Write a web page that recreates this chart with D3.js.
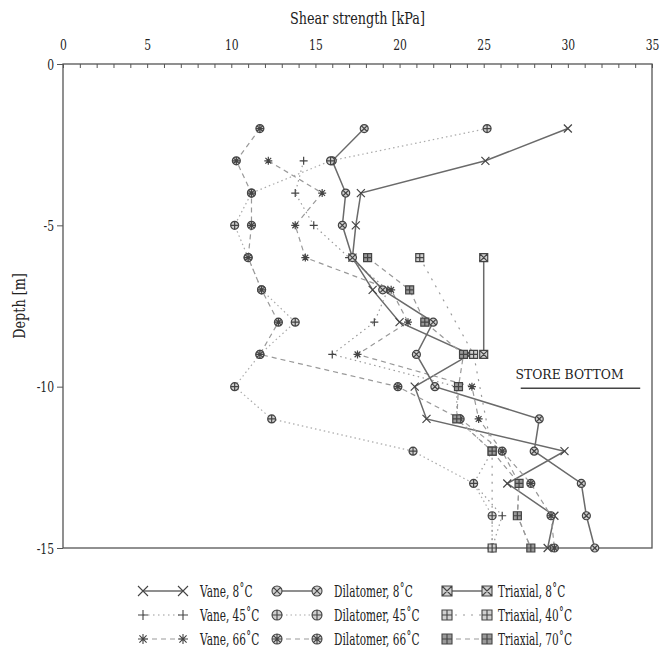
<!DOCTYPE html>
<html>
<head>
<meta charset="utf-8">
<script src="https://cdn.jsdelivr.net/npm/d3@7"></script>
<style>
  body { margin: 0; background: #fff; }
  svg text { font-family: "DejaVu Serif", serif; fill: #222; }
</style>
</head>
<body>
<div id="chart"></div>
<script>
// x ticks (kPa) and depth ticks (m)
const xLabels = [0, 5, 10, 15, 20, 25, 30, 35];
const yLabels = [0, -5, -10, -15];

// depths of the sample points
const depthsFull = [-2, -3, -4, -5, -6, -7, -8, -9, -10, -11, -12, -13, -14, -15];
const depthsFrom3 = [-3, -4, -5, -6, -7, -8, -9, -10, -11, -12, -13, -14, -15];
const depthsTri8 = [-6, -9];
const depthsTri40 = [-6, -9, -12, -15];
const depthsTri70 = [-6, -7, -8, -9, -10, -11, -12, -13, -14, -15];

// shear strength values [kPa]
const vane8 = [30.0, 25.1, 17.7, 17.4, 17.2, 18.4, 20.0, 24.2, 20.9, 21.6, 29.8, 26.4, 29.2, 28.8];
const vane45 = [14.3, 13.8, 14.9, 17.0, 19.3, 18.5, 16.0, 23.4, 23.4, 25.5, 24.4, 26.1, 25.5];
const vane66 = [12.2, 15.4, 13.8, 14.4, 19.5, 20.5, 17.5, 24.3, 24.7, 26.1, 27.1, 27.0, 27.8];
const dil8 = [17.9, 16.0, 16.8, 16.6, 17.2, 19.0, 22.0, 21.0, 22.1, 28.3, 28.0, 30.8, 31.1, 31.6];
const dil45 = [25.2, 15.9, 11.2, 10.2, 11.0, 11.8, 13.8, 11.7, 10.2, 12.4, 20.8, 24.4, 25.5, 25.5];
const dil66 = [11.7, 10.3, 11.2, 11.2, 11.0, 11.8, 12.8, 11.7, 19.9, 23.6, 26.1, 27.8, 29.0, 29.2];
const tri8 = [25.0, 25.0];
const tri40 = [21.2, 24.4, 25.5, 25.5];
const tri70 = [18.1, 20.6, 21.5, 23.8, 23.5, 23.4, 25.5, 27.1, 27.0, 27.8];

const seriesNames = ["Vane, 8˚C", "Vane, 45˚C", "Vane, 66˚C",
                     "Dilatomer, 8˚C", "Dilatomer, 45˚C", "Dilatomer, 66˚C",
                     "Triaxial, 8˚C", "Triaxial, 40˚C", "Triaxial, 70˚C"];

const series = [
  { name: seriesNames[0], depth: depthsFull, value: vane8, sym: "x", dash: null, color: "#6a6a6a", w: 1.5 },
  { name: seriesNames[1], depth: depthsFrom3, value: vane45, sym: "plus", dash: "1.5,3.5", color: "#999", w: 1.2 },
  { name: seriesNames[2], depth: depthsFrom3, value: vane66, sym: "star", dash: "5,4", color: "#999", w: 1.2 },
  { name: seriesNames[3], depth: depthsFull, value: dil8, sym: "circX", dash: null, color: "#6a6a6a", w: 1.5 },
  { name: seriesNames[4], depth: depthsFull, value: dil45, sym: "circPlus", dash: "1.5,3", color: "#aaa", w: 1.2 },
  { name: seriesNames[5], depth: depthsFull, value: dil66, sym: "circStar", dash: "5,4", color: "#999", w: 1.2 },
  { name: seriesNames[6], depth: depthsTri8, value: tri8, sym: "sqX", dash: null, color: "#6a6a6a", w: 1.5 },
  { name: seriesNames[7], depth: depthsTri40, value: tri40, sym: "sqPlus", dash: "2,6", color: "#999", w: 1.2 },
  { name: seriesNames[8], depth: depthsTri70, value: tri70, sym: "sqFill", dash: "5,4", color: "#999", w: 1.2 }
];

const width = 667, height = 662;
const svg = d3.select("#chart").append("svg")
  .attr("width", width)
  .attr("height", height);

const x = d3.scaleLinear().domain([0, 35]).range([63, 652]);
const y = d3.scaleLinear().domain([0, -15]).range([64, 548]);

// the original uses a narrow typewriter-like face, squeeze DejaVu Serif
function narrowText(parent, px, py, str, size, anchor, squeeze) {
  return parent.append("text")
    .attr("transform", `translate(${px},${py}) scale(${squeeze || 0.8},1)`)
    .attr("text-anchor", anchor || "start")
    .attr("font-size", size)
    .text(str);
}

// marker path for a symbol type
function symbolPath(type, r) {
  const c = r * 0.72;
  const xs = `M${-c},${-c}L${c},${c}M${-c},${c}L${c},${-c}`;
  const ps = `M${-r},0L${r},0M0,${-r}L0,${r}`;
  const circ = `M${r},0A${r},${r} 0 1,1 ${-r},0A${r},${r} 0 1,1 ${r},0Z`;
  const sq = `M${-r},${-r}L${r},${-r}L${r},${r}L${-r},${r}Z`;
  const xi = r * 0.68;
  const xIn = `M${-xi},${-xi}L${xi},${xi}M${-xi},${xi}L${xi},${-xi}`;
  const pIn = `M${-r},0L${r},0M0,${-r}L0,${r}`;
  switch (type) {
    case "x": return `M${-r},${-r}L${r},${r}M${-r},${r}L${r},${-r}`;
    case "plus": return ps;
    case "star": return ps + xs;
    case "circX": return circ + xIn;
    case "circPlus": return circ + pIn;
    case "circStar": return circ + pIn + xIn;
    case "sqX": return sq + `M${-r},${-r}L${r},${r}M${-r},${r}L${r},${-r}`;
    case "sqPlus": return sq + pIn;
    case "sqFill": return sq + pIn;
  }
}

function symbolFill(type) {
  if (type === "sqFill") return "#9a9a9a";
  if (type.startsWith("circ") || type.startsWith("sq")) return "#d0d0d0";
  return "none";
}

// frame
svg.append("rect")
  .attr("x", x(0)).attr("y", y(0))
  .attr("width", x(35) - x(0)).attr("height", y(-15) - y(0))
  .attr("fill", "none").attr("stroke", "#555").attr("stroke-width", 1.3);

// top axis: minor ticks every 1 kPa pointing into the plot
svg.append("g")
  .attr("transform", `translate(0,${y(0)})`)
  .call(d3.axisTop(x).tickValues(d3.range(0, 36, 1)).tickSize(-4).tickFormat(""))
  .call(g => g.select(".domain").remove())
  .call(g => g.selectAll("line").attr("stroke", "#555"));

// top axis labels
const xAxisLabels = svg.append("g")
  .attr("transform", `translate(0,${y(0)})`)
  .call(d3.axisTop(x).tickValues(xLabels).tickSize(0).tickFormat(""))
  .call(g => g.select(".domain").remove());
xAxisLabels.selectAll(".tick")
  .each(function (d) { narrowText(d3.select(this), 0, -14, d3.format("d")(d), 15, "middle", 0.72); });

// left axis
const yAxis = svg.append("g")
  .attr("transform", `translate(${x(0)},0)`)
  .call(d3.axisLeft(y).tickValues(yLabels).tickSize(6).tickFormat(""))
  .call(g => g.select(".domain").remove())
  .call(g => g.selectAll("line").attr("stroke", "#555"));
yAxis.selectAll(".tick")
  .each(function (d) { narrowText(d3.select(this), -9, 5, String(d), 15, "end", 0.72); });

// axis titles
narrowText(svg, (x(0) + x(35)) / 2, 24, "Shear strength [kPa]", 16, "middle", 0.8);

svg.append("text")
  .attr("transform", `translate(25,${(y(0) + y(-15)) / 2}) rotate(-90) scale(0.8,1)`)
  .attr("text-anchor", "middle").attr("font-size", 16)
  .text("Depth [m]");

// store bottom marker
svg.append("text")
  .attr("x", x(30.1)).attr("y", y(-9.75))
  .attr("text-anchor", "middle").attr("font-size", 12)
  .attr("textLength", 108).attr("lengthAdjust", "spacingAndGlyphs")
  .text("STORE BOTTOM");
svg.append("line")
  .attr("x1", x(27.2)).attr("x2", x(34.3))
  .attr("y1", y(-10.05)).attr("y2", y(-10.05))
  .attr("stroke", "#444").attr("stroke-width", 1.4);

// series lines
const line = d3.line().x(d => x(d[0])).y(d => y(d[1]));
const plot = svg.append("g");

series.forEach(s => {
  const pts = s.value.map((v, i) => [v, s.depth[i]]);
  plot.append("path")
    .datum(pts)
    .attr("d", line)
    .attr("fill", "none")
    .attr("stroke", s.color)
    .attr("stroke-width", s.w)
    .attr("stroke-dasharray", s.dash);
});

series.forEach(s => {
  const pts = s.value.map((v, i) => [v, s.depth[i]]);
  plot.selectAll(null)
    .data(pts)
    .enter()
    .append("path")
    .attr("transform", d => `translate(${x(d[0])},${y(d[1])})`)
    .attr("d", symbolPath(s.sym, 4))
    .attr("fill", symbolFill(s.sym))
    .attr("stroke", "#444")
    .attr("stroke-width", 1.2);
});

// legend, three columns of three rows
const legendCols = [143, 277, 447];
const legendText = [200, 334, 498];
const legendRows = [591, 615, 639];
series.forEach((s, i) => {
  const col = Math.floor(i / 3), row = i % 3;
  const lx = legendCols[col], ly = legendRows[row];
  const g = svg.append("g");
  g.append("line")
    .attr("x1", lx).attr("x2", lx + 40)
    .attr("y1", ly).attr("y2", ly)
    .attr("stroke", s.color).attr("stroke-width", s.w)
    .attr("stroke-dasharray", s.dash);
  [lx, lx + 40].forEach(px => {
    g.append("path")
      .attr("transform", `translate(${px},${ly})`)
      .attr("d", symbolPath(s.sym, 5))
      .attr("fill", symbolFill(s.sym))
      .attr("stroke", "#444")
      .attr("stroke-width", 1.1);
  });
  narrowText(g, legendText[col], ly + 6, s.name, 17, "start", 0.62);
});
</script>
</body>
</html>
